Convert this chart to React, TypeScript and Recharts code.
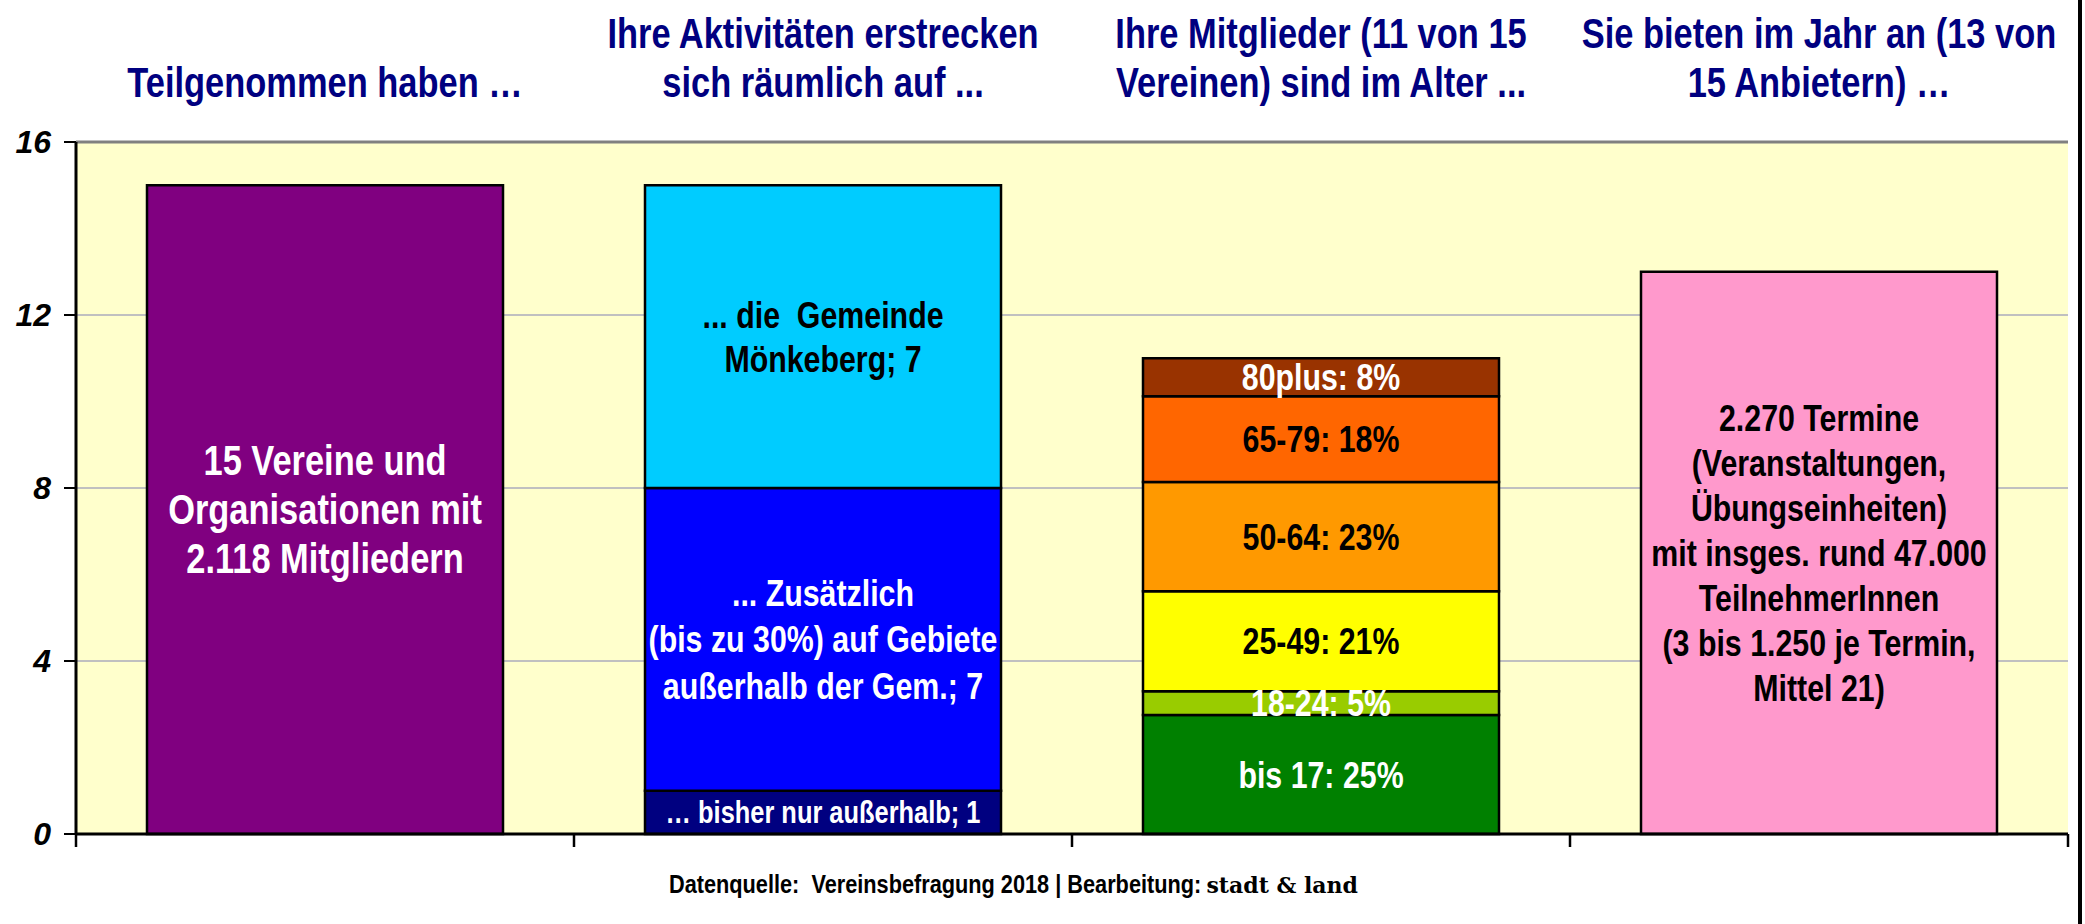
import React from 'react';
import { BarChart, Bar, XAxis, YAxis, CartesianGrid, Cell, LabelList, ReferenceLine } from 'recharts';

// ---------- data ----------
const categories = ['Teilnahme', 'Raum', 'Alter', 'Angebot'];

const titleLines: string[][] = [
  ['Teilgenommen haben …'],
  ['Ihre Aktivitäten erstrecken', 'sich räumlich auf ...'],
  ['Ihre Mitglieder (11 von 15', 'Vereinen) sind im Alter ...'],
  ['Sie bieten im Jahr an (13 von', '15 Anbietern) …'],
];

const participationValues = [15];
const participationLabels = ['15 Vereine und\nOrganisationen mit\n2.118 Mitgliedern'];

const areaValues = [1, 7, 7];
const areaLabels = [
  '… bisher nur außerhalb; 1',
  '... Zusätzlich\n(bis zu 30%) auf Gebiete\naußerhalb der Gem.; 7',
  '... die  Gemeinde\nMönkeberg; 7',
];

const ageValues = [2.75, 0.55, 2.31, 2.53, 1.98, 0.88];
const ageLabels = ['bis 17: 25%', '18-24: 5%', '25-49: 21%', '50-64: 23%', '65-79: 18%', '80plus: 8%'];

const offerValues = [13];
const offerLabels = [
  '2.270 Termine\n(Veranstaltungen,\nÜbungseinheiten)\nmit insges. rund 47.000\nTeilnehmerInnen\n(3 bis 1.250 je Termin,\nMittel 21)',
];

const yTicks = [0, 4, 8, 12, 16];

// ---------- styles ----------
const segmentColors = [
  ['#800080'],
  ['#000080', '#0000FF', '#00CCFF'],
  ['#008000', '#99CC00', '#FFFF00', '#FF9900', '#FF6600', '#993300'],
  ['#FF99CC'],
];
const labelColors = [
  ['#FFFFFF'],
  ['#FFFFFF', '#FFFFFF', '#000000'],
  ['#FFFFFF', '#FFFFFF', '#000000', '#000000', '#000000', '#FFFFFF'],
  ['#000000'],
];
const labelSizes = [[42], [31, 37, 37], [37, 37, 37, 37, 37, 37], [37]];
const labelLineHeights = [[49], [40, 47, 44], [43, 43, 43, 43, 43, 43], [45]];

const FONT = "'Liberation Sans', Arial, sans-serif";
const NARROW = 0.82;
const MAX_SEG = 6;

const segmentValues = [participationValues, areaValues, ageValues, offerValues];
const segmentLabels = [participationLabels, areaLabels, ageLabels, offerLabels];

const data = categories.map((cat, i) => {
  const row: Record<string, any> = { cat };
  for (let k = 0; k < MAX_SEG; k++) {
    row[`v${k}`] = segmentValues[i][k];
    row[`l${k}`] = segmentLabels[i][k];
  }
  return row;
});

const NarrowText = ({ cx, cy, lines, size, lineHeight, color }: any) => (
  <g transform={`translate(${cx},${cy}) scale(${NARROW},1)`}>
    {lines.map((ln: string, j: number) => (
      <text
        key={j}
        x={0}
        y={(j - (lines.length - 1) / 2) * lineHeight}
        textAnchor="middle"
        dominantBaseline="central"
        fill={color}
        fontFamily={FONT}
        fontWeight="bold"
        fontSize={size}
        style={{ whiteSpace: 'pre' }}
      >
        {ln}
      </text>
    ))}
  </g>
);

const makeLabel = (k: number) => (props: any) => {
  const vb = props.viewBox || {};
  const x = props.x ?? vb.x;
  const y = props.y ?? vb.y;
  const width = props.width ?? vb.width;
  const height = props.height ?? vb.height;
  const value = props.value;
  if (value === undefined || value === null) return null;
  const i = segmentLabels.findIndex((arr) => arr[k] === value);
  if (i < 0) return null;
  const lines = String(value).split('\n');
  return (
    <NarrowText
      cx={x + width / 2}
      cy={y + height / 2}
      lines={lines}
      size={labelSizes[i][k]}
      lineHeight={labelLineHeights[i][k]}
      color={labelColors[i][k]}
    />
  );
};

const TitleTick = (props: any) => {
  const { x, payload } = props;
  const i = categories.indexOf(payload.value);
  if (i < 0) return null;
  const lines = titleLines[i];
  const centers = lines.length === 1 ? [82] : [33, 82];
  return (
    <g>
      {lines.map((ln, j) => (
        <g key={j} transform={`translate(${x},${centers[j]}) scale(${NARROW},1)`}>
          <text
            x={0}
            y={0}
            textAnchor="middle"
            dominantBaseline="central"
            fill="#000080"
            fontFamily={FONT}
            fontWeight="bold"
            fontSize={42}
          >
            {ln}
          </text>
        </g>
      ))}
    </g>
  );
};

// tick marks at the category boundaries (band edges) of the bottom axis
const BoundaryTick = (props: any) => {
  const { x, y, width, visibleTicksCount, index } = props;
  const band = width / (visibleTicksCount || categories.length);
  const xs = [x - band / 2];
  if (index === (visibleTicksCount || categories.length) - 1) xs.push(x + band / 2);
  return (
    <g>
      {xs.map((bx, j) => (
        <line key={j} x1={bx} x2={bx} y1={y} y2={y + 13} stroke="#000" strokeWidth={2.5} />
      ))}
    </g>
  );
};

export default function App() {
  return (
    <div style={{ position: 'absolute', left: 0, top: 0, width: 2085, height: 924, background: '#fff' }}>
      <BarChart
        width={2085}
        height={924}
        data={data}
        margin={{ top: 0, right: 17, bottom: 0, left: 0 }}
        barSize={356}
      >
        <CartesianGrid xAxisId="cat" yAxisId="l" vertical={false} stroke="#C0C0C0" strokeWidth={2} fill="#FFFFCC" fillOpacity={1} />
        <XAxis
          xAxisId="cat"
          dataKey="cat"
          orientation="top"
          height={142}
          axisLine={false}
          tickLine={false}
          tick={<TitleTick />}
          interval={0}
        />
        <XAxis
          xAxisId="bot"
          dataKey="cat"
          orientation="bottom"
          height={90}
          interval={0}
          tickLine={false}
          tickSize={0}
          tickMargin={0}
          tick={<BoundaryTick />}
          axisLine={{ stroke: '#000', strokeWidth: 3 }}
        />
        <YAxis
          yAxisId="l"
          domain={[0, 16]}
          ticks={yTicks}
          width={76}
          tickSize={12}
          tickMargin={13}
          axisLine={{ stroke: '#000', strokeWidth: 3 }}
          tickLine={{ stroke: '#000', strokeWidth: 2 }}
          tick={{ fill: '#000', fontSize: 32, fontWeight: 'bold', fontStyle: 'italic', fontFamily: FONT }}
        />
        <YAxis
          yAxisId="r"
          orientation="right"
          width={0}
          tick={false}
          tickLine={false}
          axisLine={{ stroke: '#808080', strokeWidth: 2 }}
        />
        <ReferenceLine yAxisId="l" xAxisId="cat" y={16} stroke="#808080" strokeWidth={3} />
        {Array.from({ length: MAX_SEG }, (_, k) => (
          <Bar
            key={k}
            dataKey={`v${k}`}
            stackId="s"
            xAxisId="cat"
            yAxisId="l"
            stroke="#000"
            strokeWidth={2.5}
            isAnimationActive={false}
          >
            {data.map((_, i) => (
              <Cell key={i} fill={segmentColors[i][k] || '#000'} />
            ))}
            <LabelList dataKey={`l${k}`} content={makeLabel(k)} />
          </Bar>
        ))}
      </BarChart>
      <svg
        width={2085}
        height={924}
        style={{ position: 'absolute', left: 0, top: 0, pointerEvents: 'none' }}
      >
        <g transform={`translate(669,893) scale(${NARROW},1)`}>
          <text x={0} y={0} textAnchor="start" fill="#000" fontFamily={FONT} fontWeight="bold" fontSize={26.5} style={{ whiteSpace: 'pre' }}>
            {'Datenquelle:  Vereinsbefragung 2018 | Bearbeitung: '}
          </text>
        </g>
        <text x={1358} y={893} textAnchor="end" fill="#000" fontFamily="'DejaVu Serif', 'Liberation Serif', serif" fontWeight="bold" fontSize={22}>
          {'stadt & land'}
        </text>
        <rect x={2078} y={0} width={4} height={924} fill="#000" />
      </svg>
    </div>
  );
}
